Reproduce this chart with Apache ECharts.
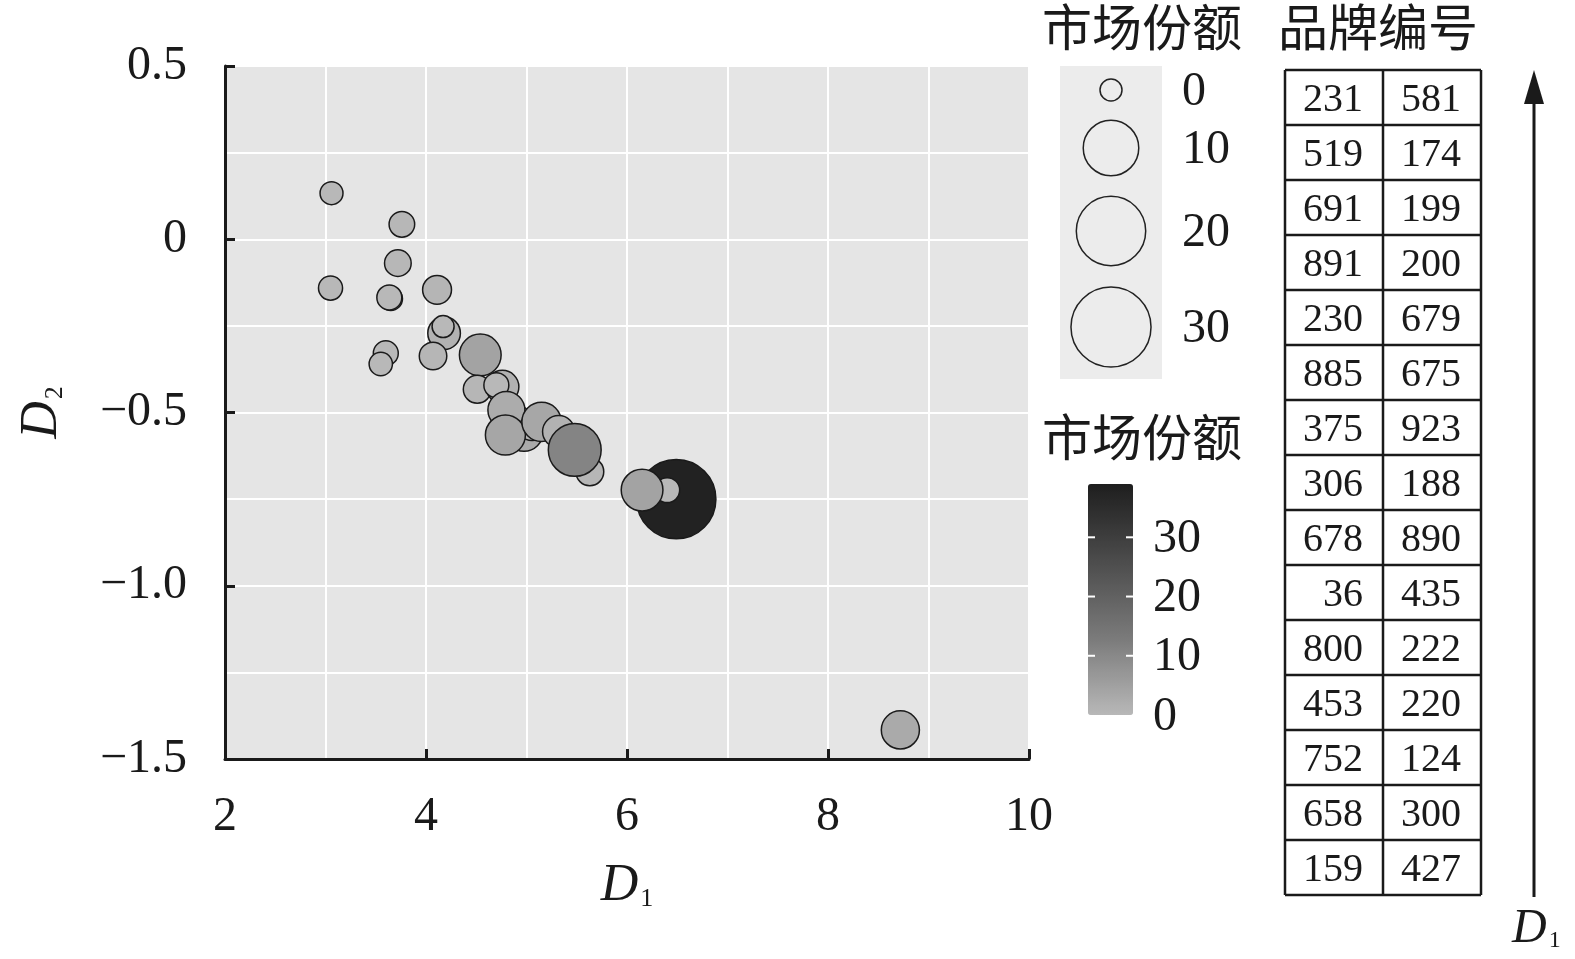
<!DOCTYPE html>
<html>
<head>
<meta charset="utf-8">
<script src="https://cdn.jsdelivr.net/npm/echarts@6/dist/echarts.min.js"></script>
<style>
html, body { margin: 0; padding: 0; background: #fff; }
#chart { width: 1575px; height: 959px; }
</style>
</head>
<body>
<div id="chart"></div>
<script>
// 坐标 D1 / D2 与市场份额（按绘制顺序）
const d1 = [3.06, 3.76, 3.72, 3.05, 3.65, 3.635, 4.11, 4.18, 4.17, 3.60, 3.55, 4.07, 4.54, 4.51, 4.76, 4.70,
    4.89, 4.975, 5.055, 4.80, 4.79, 5.15, 5.32, 5.63, 5.48, 6.53, 6.49, 6.40, 6.15, 8.72];
const d2 = [0.133, 0.043, -0.069, -0.141, -0.172, -0.168, -0.146, -0.271, -0.252, -0.329, -0.360, -0.337, -0.334, -0.433, -0.426, -0.421,
    -0.522, -0.557, -0.536, -0.493, -0.565, -0.527, -0.555, -0.671, -0.608, -0.767, -0.750, -0.724, -0.724, -1.416];
const share = [0.01, 0.15, 0.25, 0.05, 0.02, 0.1, 0.55, 1.3, 0, 0.1, 0.02, 0.35, 4.5, 0.4, 1.4, 0.1,
    1.0, 3.0, 1.0, 2.6, 3.75, 3.5, 1.2, 0.4, 11, 0.2, 38, 0.1, 4.5, 3.0];

// 品牌编号表
const brandLeft = ['231', '519', '691', '891', '230', '885', '375', '306', '678', '36', '800', '453', '752', '658', '159'];
const brandRight = ['581', '174', '199', '200', '679', '675', '923', '188', '890', '435', '222', '220', '124', '300', '427'];

// 图例
const sizeKeys = [0, 10, 20, 30];
const colorKeys = [0, 10, 20, 30];
const shareMax = 39;
const shadeStops = ['#b8b8b8', '#7a7a7a', '#4c4c4c', '#1e1e1e'];

const serif = '"Liberation Serif", "Times New Roman", serif';
const cjk = '"Noto Sans CJK SC"';
const ink = '#1a1a1a';

function pointSize(s) { return 22 + 9.3 * Math.sqrt(s); }
function keySize(s) { return 22 + 10.6 * Math.sqrt(s); }

const points = d1.map((x, i) => [x, d2[i], share[i]]);

function yLabel(v) {
    if (v === 0) return '0';
    return (v < 0 ? '\u2212' : '') + Math.abs(v).toFixed(1);
}

let myChart = echarts.init(document.getElementById('chart'));

// 右侧图形：图例、色条、表格、箭头
let graphics = [];
const titleFont = '50px ' + cjk;
graphics.push({ type: 'text', x: 1042, y: 2, style: { text: '市场份额', fill: ink, font: titleFont } });
graphics.push({ type: 'text', x: 1042, y: 412, style: { text: '市场份额', fill: ink, font: titleFont } });
graphics.push({ type: 'text', x: 1278, y: 2, style: { text: '品牌编号', fill: ink, font: titleFont } });

// 大小图例
graphics.push({ type: 'rect', shape: { x: 1060, y: 66, width: 102, height: 313 }, style: { fill: '#ececec' }, z: 1 });
const sizeKeyY = [90, 148, 231, 327];
sizeKeys.forEach((v, i) => {
    graphics.push({ type: 'circle', shape: { cx: 1111, cy: sizeKeyY[i], r: keySize(v) / 2 }, style: { fill: 'none', stroke: '#222', lineWidth: 1.5 }, z: 2 });
    graphics.push({ type: 'text', x: 1182, y: sizeKeyY[i] + 2, style: { text: String(v), fill: ink, font: '48px ' + serif, textVerticalAlign: 'middle' }, z: 2 });
});

// 色条刻度
const barTop = 484, barH = 231, barX = 1088, barW = 45;
colorKeys.forEach(v => {
    let y = barTop + barH - v / shareMax * barH;
    if (v > 0) {
        graphics.push({ type: 'line', shape: { x1: barX, y1: y, x2: barX + 7, y2: y }, style: { stroke: '#fff', lineWidth: 2 }, z: 5 });
        graphics.push({ type: 'line', shape: { x1: barX + barW - 7, y1: y, x2: barX + barW, y2: y }, style: { stroke: '#fff', lineWidth: 2 }, z: 5 });
    }
    graphics.push({ type: 'text', x: 1153, y: y + 2, style: { text: String(v), fill: ink, font: '48px ' + serif, textVerticalAlign: 'middle' }, z: 5 });
});

// 表格
const tabX = [1285, 1383, 1481], tabTop = 70, rowH = 55;
brandLeft.forEach((b, i) => {
    let y = tabTop + i * rowH;
    graphics.push({ type: 'text', x: tabX[1] - 20, y: y + rowH / 2 + 3, style: { text: b, fill: ink, font: '40px ' + serif, textAlign: 'right', textVerticalAlign: 'middle' } });
    graphics.push({ type: 'text', x: tabX[2] - 20, y: y + rowH / 2 + 3, style: { text: brandRight[i], fill: ink, font: '40px ' + serif, textAlign: 'right', textVerticalAlign: 'middle' } });
});
for (let i = 0; i <= brandLeft.length; i++) {
    let y = tabTop + i * rowH;
    graphics.push({ type: 'line', shape: { x1: tabX[0], y1: y, x2: tabX[2], y2: y }, style: { stroke: ink, lineWidth: 2.5 } });
}
tabX.forEach(x => {
    graphics.push({ type: 'line', shape: { x1: x, y1: tabTop, x2: x, y2: tabTop + brandLeft.length * rowH }, style: { stroke: ink, lineWidth: 2.5 } });
});

// D1 箭头
graphics.push({ type: 'line', shape: { x1: 1534, y1: 897, x2: 1534, y2: 95 }, style: { stroke: ink, lineWidth: 3 } });
graphics.push({ type: 'polygon', shape: { points: [[1534, 70], [1524, 104], [1544, 104]] }, style: { fill: ink } });
graphics.push({ type: 'text', x: 1512, y: 905, style: { rich: { d: { fontFamily: serif, fontStyle: 'italic', fontSize: 48, fill: ink }, s: { fontFamily: serif, fontSize: 24, fill: ink, verticalAlign: 'bottom', padding: [0, 0, 0, 2] } }, text: '{d|D}{s|1}', fill: ink } });

const axisNameRich = {
    d: { fontFamily: serif, fontStyle: 'italic', fontSize: 52, color: ink },
    s: { fontFamily: serif, fontSize: 26, color: ink, verticalAlign: 'bottom', padding: [0, 0, 0, 2] }
};

myChart.setOption({
    backgroundColor: '#fff',
    animation: false,
    grid: {
        left: 225, right: 546, top: 66, bottom: 200,
        show: true, backgroundColor: '#e5e5e5', borderWidth: 0
    },
    xAxis: {
        type: 'value', min: 2, max: 10, interval: 2,
        name: '{d|D}{s|1}', nameLocation: 'middle', nameGap: 101,
        nameTextStyle: { rich: axisNameRich },
        axisLine: { onZero: false, lineStyle: { color: ink, width: 3 } },
        axisTick: { inside: true, length: 10, lineStyle: { color: ink, width: 3 } },
        axisLabel: { fontFamily: serif, fontSize: 48, color: ink, margin: 34 },
        splitLine: { show: true, lineStyle: { color: '#fff', width: 2 } },
        minorTick: { show: false, splitNumber: 2 },
        minorSplitLine: { show: true, lineStyle: { color: '#fff', width: 2 } }
    },
    yAxis: {
        type: 'value', min: -1.5, max: 0.5, interval: 0.5,
        name: '{d|D}{s|2}', nameLocation: 'middle', nameGap: 157, nameRotate: 90,
        nameTextStyle: { rich: axisNameRich },
        axisLine: { onZero: false, lineStyle: { color: ink, width: 3 } },
        axisTick: { inside: true, length: 10, lineStyle: { color: ink, width: 3 } },
        axisLabel: { fontFamily: serif, fontSize: 48, color: ink, margin: 38, formatter: yLabel },
        splitLine: { show: true, lineStyle: { color: '#fff', width: 2 } },
        minorTick: { show: false, splitNumber: 2 },
        minorSplitLine: { show: true, lineStyle: { color: '#fff', width: 2 } }
    },
    visualMap: {
        type: 'continuous', min: 0, max: shareMax, dimension: 2,
        inRange: { color: shadeStops },
        calculable: false, hoverLink: false,
        left: barX, top: barTop, itemWidth: barW, itemHeight: barH,
        padding: 0, text: null, seriesIndex: 0
    },
    graphic: graphics,
    series: [{
        type: 'scatter',
        data: points,
        symbolSize: function (val) { return pointSize(val[2]); },
        itemStyle: { borderColor: '#1a1a1a', borderWidth: 1.5, opacity: 1 },
        emphasis: { disabled: true }
    }]
});

window.addEventListener('resize', function () {
    myChart.resize();
});
</script>
</body>
</html>
